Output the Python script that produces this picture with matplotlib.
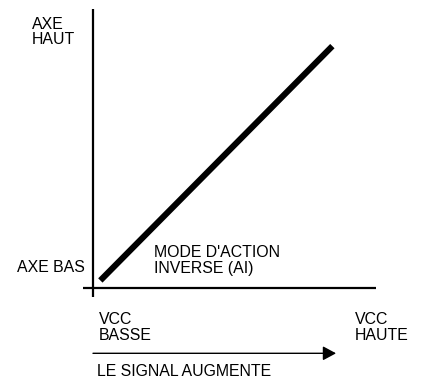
import matplotlib
matplotlib.use("Agg")
import matplotlib.pyplot as plt
import matplotlib.transforms as mtransforms

plt.rcParams['font.family'] = ['Liberation Sans', 'DejaVu Sans']

# --- data ---
signal = [0.027, 0.846]          # input signal (fraction of range)
output = [0.027, 0.867]          # actuator output (fraction of range)
x_labels = ["VCC\nBASSE", "VCC\nHAUTE"]
y_labels = ["AXE BAS", "AXE\nHAUT"]
curve_label = "MODE D'ACTION\nINVERSE (AI)"
arrow_label = "LE SIGNAL AUGMENTE"

W, H = 421, 378
fig = plt.figure(figsize=(W / 100, H / 100), dpi=100)
fig.patch.set_facecolor('white')

# axes area in pixel units (left, top, right, bottom)
L, T, R, B = 92.7, 9.0, 376.0, 288.0
ax = fig.add_axes([L / W, (H - B) / H, (R - L) / W, (B - T) / H])
ax.set_xlim(0, 1)
ax.set_ylim(0, 1)
ax.axis('off')

# axes lines
ax.plot([0, 0], [-9 / (B - T), 1], color='black', lw=1.6, clip_on=False,
        solid_capstyle='butt')
ax.plot([-10 / (R - L), 1], [0, 0], color='black', lw=1.6, clip_on=False,
        solid_capstyle='butt')

# characteristic line
ax.plot(signal, output, color='black', lw=4.4, solid_capstyle='butt',
        clip_on=False)

# signal arrow
ay = (B - 353.3) / (B - T)
ax.annotate('', xy=(0.859, ay), xytext=(0.001, ay), xycoords='data',
            arrowprops=dict(arrowstyle='-|>,head_length=0.8,head_width=0.43',
                            mutation_scale=10, lw=1.0, color='black',
                            shrinkA=0, shrinkB=0),
            annotation_clip=False)

# pixel transform for text placement
px = mtransforms.Affine2D().scale(1 / W, -1 / H).translate(0, 1) + fig.transFigure
fs = 11.4
ls = 1.06
txt = dict(fontsize=fs, color='black', linespacing=ls, va='top', ha='left',
           transform=px)
fig.text(32, 16.7, y_labels[1], **txt)
fig.text(17, 260, y_labels[0], **txt)
fig.text(154, 245, curve_label, **txt)
fig.text(99, 312.3, x_labels[0], **txt)
fig.text(355, 312.3, x_labels[1], **txt)
fig.text(97, 364.5, arrow_label, **txt)

fig.savefig('out.png', dpi=100, facecolor='white')
